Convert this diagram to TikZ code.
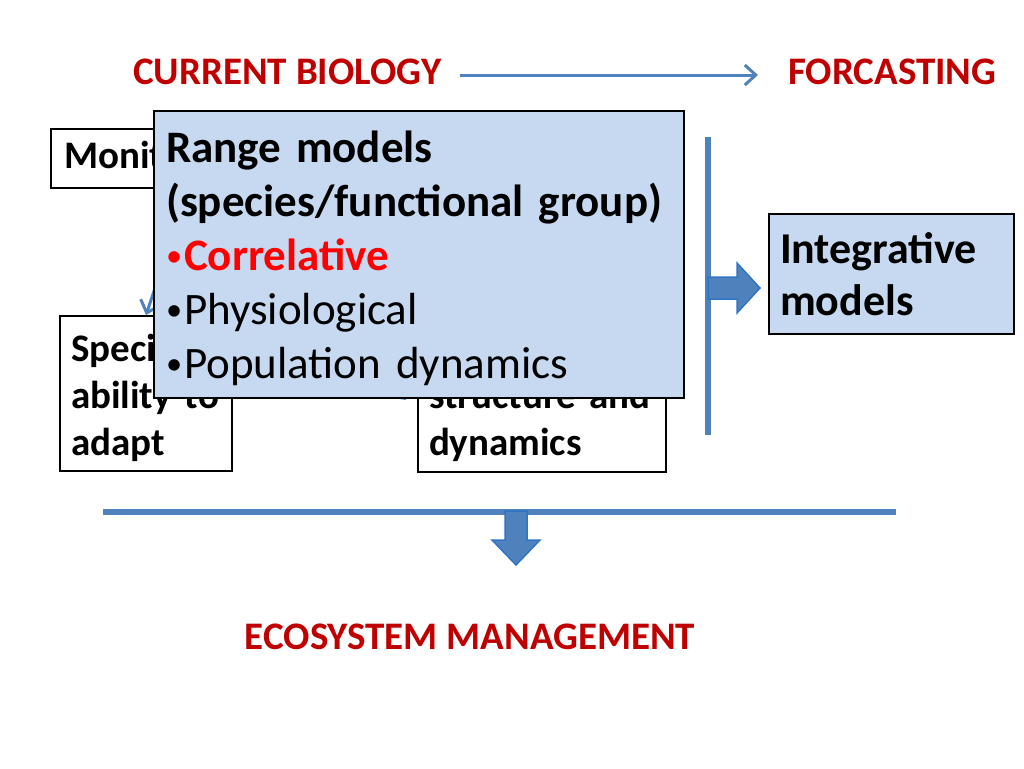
\documentclass[tikz,border=0pt]{standalone}
\usepackage{fontspec}
\setmainfont{Carlito}
\usetikzlibrary{arrows.meta,calc}
\definecolor{darkred}{RGB}{192,0,0}
\definecolor{brightred}{RGB}{255,0,0}
\definecolor{barblue}{RGB}{79,129,189}
\definecolor{edgeblue}{RGB}{46,117,197}
\definecolor{paleblue}{RGB}{198,217,241}
\newcommand{\dotmark}{\raisebox{0.1em}{\scalebox{0.72}{•}}\hspace{2pt}}
\tikzset{
	heading/.style={font=\fontsize{39}{47}\selectfont\bfseries, text=darkred, inner sep=0pt},
	whitebox/.style={draw=black, line width=2pt, fill=white, anchor=north west, align=left, inner ysep=4pt, font=\fontsize{39}{47}\selectfont\bfseries},
	modelbox/.style={draw=black, line width=2pt, fill=paleblue, anchor=north west, align=left, inner ysep=4pt},
	thinarrow/.style={draw=barblue, line width=3pt, -{Straight Barb[length=11pt,width=20pt]}},
	bar/.style={draw=barblue, line width=6pt},
	blockarrow/.style={fill=barblue, draw=edgeblue, line width=1.5pt, line join=miter}
}

\begin{document}
\begin{tikzpicture}[x=1pt, y=-1pt]
			\useasboundingbox (0,0) rectangle (1024,768);
			%%%%% START %%%%%
			\node[heading, anchor=west] (cur) at (133,72) {CURRENT BIOLOGY};
			\node[heading, anchor=west] (fore) at (788,72) {FORCASTING};
			\draw[thinarrow] ([xshift=18pt,yshift=-3pt]cur.east) -- ([xshift=-30pt,yshift=-3pt]fore.west);
			
			%% boxes under the range models
			\node[whitebox, text width=224pt, inner xsep=13pt, minimum height=59pt] (moni) at (50,128) {Monitoring};
			\node[whitebox, text width=150pt, inner xsep=11pt, minimum height=155pt] (spec) at (59,315) {\rule{0pt}{36pt}Species'\\ability to\\adapt};
			\node[whitebox, text width=226pt, inner xsep=11pt, minimum height=156pt] (comm) at (417,315) {\rule{0pt}{36pt}Community\\structure and\\dynamics};
			\coordinate (commhit) at (406,400);
			\draw[thinarrow] ([xshift=12pt]moni.south) -- (spec.north);
			\draw[thinarrow] ([xshift=60pt]moni.south) -- (commhit);
			
			\node[modelbox, text width=506pt, inner xsep=12pt, minimum height=287pt, font=\fontsize{45}{54}\selectfont] (range) at (153,110)
				{\rule{0pt}{40pt}\textbf{Range models}\\\textbf{(species/functional group)}\\\textcolor{brightred}{\dotmark\textbf{Correlative}}\\\dotmark Physiological\\\dotmark Population dynamics};
			
			%% bars and block arrows
			\coordinate (vtop) at (708,137);
			\coordinate (vbot) at (708,435);
			\draw[bar] (vtop) -- (vbot);
			\coordinate (hleft) at (103,512);
			\coordinate (hright) at (896,512);
			\draw[bar] (hleft) -- (hright);
			
			\node[modelbox, text width=223pt, inner xsep=11pt, minimum height=120pt, font=\fontsize{44}{52}\selectfont\bfseries] (integ) at (768,213) {Integrative\\models};
			
			\coordinate (rtail) at (708,288);
			\coordinate (rtip) at (760,288);
			\draw[blockarrow] ($(rtail)+(0,-11)$) -- ($(rtip)+(-23,-11)$) -- ($(rtip)+(-23,-25)$) -- (rtip)
				-- ($(rtip)+(-23,25)$) -- ($(rtip)+(-23,11)$) -- ($(rtail)+(0,11)$) -- cycle;
			
			\coordinate (dtail) at (516,511);
			\coordinate (dtip) at (516,565);
			\draw[blockarrow] ($(dtail)+(-11,0)$) -- ($(dtip)+(-11,-25)$) -- ($(dtip)+(-24,-25)$) -- (dtip)
				-- ($(dtip)+(24,-25)$) -- ($(dtip)+(11,-25)$) -- ($(dtail)+(11,0)$) -- cycle;
			
			\node[heading] (eco) at (470,637) {ECOSYSTEM MANAGEMENT};
			%%%%% END %%%%%
\end{tikzpicture}
\end{document}
